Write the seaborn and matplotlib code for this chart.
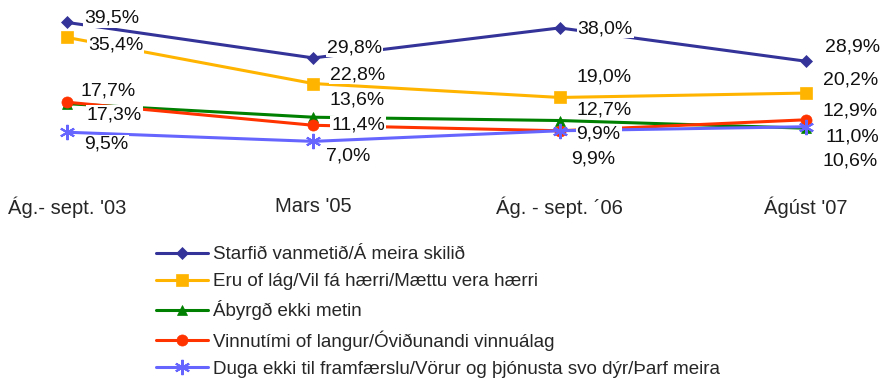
import matplotlib
matplotlib.use("Agg")
import matplotlib.pyplot as plt
import seaborn as sns
import pandas as pd

sns.set_theme(style="white")
plt.rcParams["font.family"] = ["Liberation Sans", "DejaVu Sans"]

# Survey waves
periods = ["Ág.- sept. '03", "Mars '05", "Ág. - sept. ´06", "Ágúst '07"]

# Share of respondents (%) giving each reason
series_names = [
    "Starfið vanmetið/Á meira skilið",
    "Eru of lág/Vil fá hærri/Mættu vera hærri",
    "Ábyrgð ekki metin",
    "Vinnutími of langur/Óviðunandi vinnuálag",
    "Duga ekki til framfærslu/Vörur og þjónusta svo dýr/Þarf meira",
]
starfid = [39.5, 29.8, 38.0, 28.9]
eru_of_lag = [35.4, 22.8, 19.0, 20.2]
abyrgd = [17.3, 13.6, 12.7, 10.6]
vinnutimi = [17.7, 11.4, 9.9, 12.9]
duga_ekki = [9.5, 7.0, 9.9, 11.0]
all_values = [starfid, eru_of_lag, abyrgd, vinnutimi, duga_ekki]

colors = ["#333399", "#FFB400", "#008000", "#FF3300", "#6666FF"]
markers = ["D", "s", "^", "o", (6, 2, 0)]
marker_sizes = [6, 8, 7, 8, 11]

# Label offsets (pixels) from each point, per series and period
label_offsets = [
    [(17, 4), (14, 10), (18, -1), (19, 14)],
    [(21, -8), (17, 9), (17, 20), (17, 13)],
    [(20, -11), (16, 17), (17, 11), (17, -33)],
    [(13, 11), (18, 0), (17, -3), (17, 9)],
    [(17, -12), (13, -15), (12, -28), (20, -10)],
]

df = pd.DataFrame(
    [(p, name, v) for name, vals in zip(series_names, all_values) for p, v in zip(periods, vals)],
    columns=["period", "reason", "value"],
)

fig = plt.figure(figsize=(8.9, 3.81), dpi=100)
ax = fig.add_axes([0, (381 - 190) / 381, 1, 190 / 381])

for name, color, mk, ms in zip(series_names, colors, markers, marker_sizes):
    sub = df[df["reason"] == name]
    sns.lineplot(
        data=sub, x="period", y="value", ax=ax, color=color, marker=mk,
        markersize=ms, markeredgecolor=color, markeredgewidth=1.5 if mk == (6, 2, 0) else 0.5,
        linewidth=2.2, label=name, sort=False,
    )

for vals, offs in zip(all_values, label_offsets):
    for i, (v, (dx, dy)) in enumerate(zip(vals, offs)):
        ax.annotate(
            f"{v:.1f}%".replace(".", ","), xy=(i, v), xytext=(dx, dy),
            textcoords="offset pixels", ha="left", va="center", fontsize=14,
            color="#111111", zorder=5,
            bbox=dict(boxstyle="square,pad=0.05", fc="white", ec="none"),
        )

px_per_unit = 246.3
ax.set_xlim(-67 / px_per_unit, (890 - 67) / px_per_unit)
ax.set_ylim(-(190 - 167) / 3.66, 167 / 3.66)
ax.set_xticks(range(len(periods)))
ax.set_xticklabels(periods, fontsize=14.5)
ax.tick_params(axis="x", length=0, pad=5)
ax.set_yticks([])
ax.set_xlabel("")
ax.set_ylabel("")
for s in ax.spines.values():
    s.set_visible(False)

handles, labels = ax.get_legend_handles_labels()
ax.get_legend().remove()
fig.legend(
    handles, labels, loc="upper left", bbox_to_anchor=(156 / 890, (381 - 246) / 381),
    frameon=False, fontsize=13.5, handlelength=2.75, handletextpad=0.28,
    labelspacing=0.53, borderpad=0, borderaxespad=0,
)

fig.savefig("out.png", dpi=100)
